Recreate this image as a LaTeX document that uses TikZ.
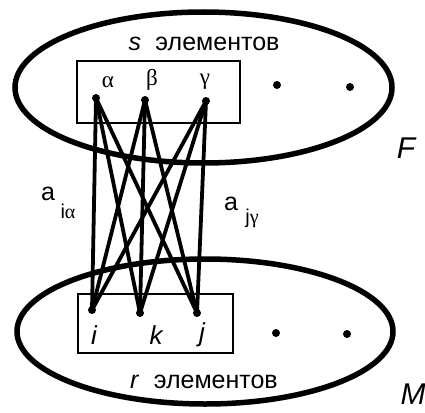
\documentclass[tikz,border=0pt]{standalone}
\usepackage{fontspec}
\setmainfont{Liberation Sans}
\newfontfamily\grk{Liberation Serif}
\begin{document}
\begin{tikzpicture}[x=1pt,y=-1pt,
  bigell/.style={draw,line width=5.5pt},
  box/.style={draw,line width=1.8pt},
  dot/.style={circle,fill=black,inner sep=0pt,minimum size=8pt},
  conn/.style={line width=3.8pt},
  lab/.style={inner sep=0pt,font=\fontsize{25}{29}\selectfont},
  grklab/.style={inner sep=0pt,font=\grk\fontsize{23}{26}\selectfont},
  vlab/.style={inner sep=0pt,font=\itshape\fontsize{26}{30}\selectfont},
  setlab/.style={inner sep=0pt,font=\itshape\fontsize{30}{34}\selectfont},
  sublab/.style={inner sep=0pt,font=\fontsize{20}{23}\selectfont}]
\useasboundingbox (0,0) rectangle (425,412);
% ellipses
\draw[bigell] (203.5,87.5) ellipse [x radius=188.5, y radius=75.5];
\draw[bigell] (205,331.5) ellipse [x radius=188, y radius=72.5];
% boxes
\draw[box] (77,61) rectangle (240,123);
\draw[box] (78,294) rectangle (233,353);
% dots
\node[dot] (al) at (96,98) {};
\node[dot] (be) at (145,100) {};
\node[dot] (ga) at (206,101) {};
\node[dot] (i) at (92,310) {};
\node[dot] (k) at (140,313) {};
\node[dot] (j) at (197,313) {};
\node[dot] (t1) at (277,85) {};
\node[dot] (t2) at (350,87) {};
\node[dot] (b1) at (276,333) {};
\node[dot] (b2) at (347,334) {};
% connectors
\foreach \u in {al,be,ga}{
  \foreach \v in {i,k,j}{
    \draw[conn] (\u.center) -- (\v.center);
  }
}
% labels
\node[grklab] (lal) at (108,82) {α};
\node[grklab] (lbe) at (152,80) {β};
\node[grklab] (lga) at (205,82) {γ};
\node[vlab] (li) at (94,335) {i};
\node[vlab] (lk) at (156,335) {k};
\node[vlab] (lj) at (202,335) {j};
\node[lab] (st) at (204,44) {\textit{s}\hspace{0.3em} элементов};
\node[lab] (rt) at (204,382) {\textit{r}\hspace{0.3em} элементов};
\node[setlab] (F) at (406,148) {F};
\node[setlab] (M) at (413,394) {M};
\node[lab] (a1) at (48,194) {a};
\node[sublab] (s1) at (68,211) {i{\grk α}};
\node[lab] (a2) at (231,204) {a};
\node[sublab] (s2) at (252,218) {j{\grk γ}};
\end{tikzpicture}
\end{document}
